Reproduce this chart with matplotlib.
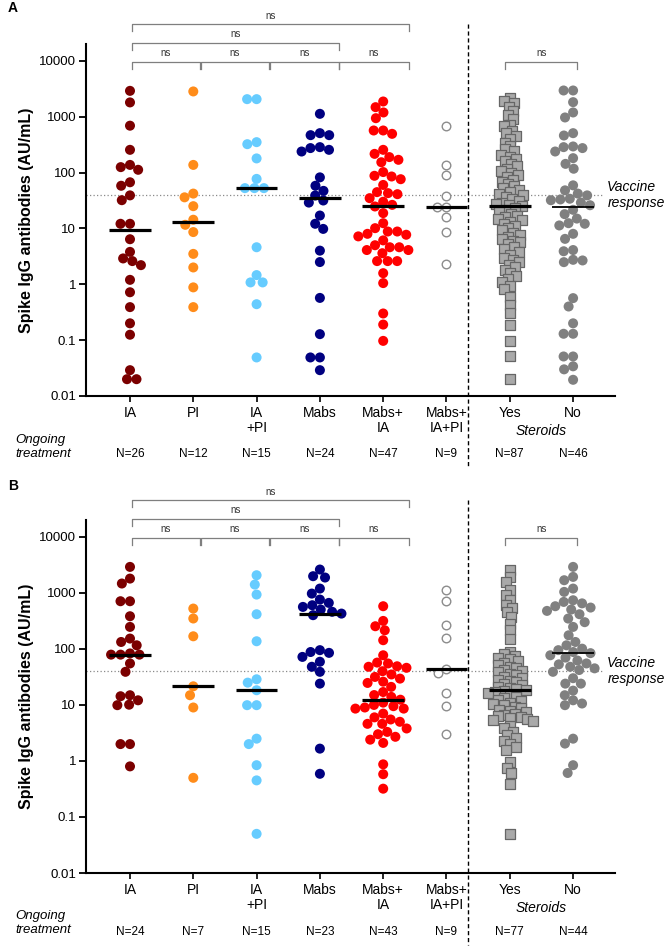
import numpy as np
import matplotlib.pyplot as plt
from matplotlib.ticker import NullLocator
from matplotlib.transforms import blended_transform_factory

plt.rcParams['font.family'] = ['Liberation Sans', 'DejaVu Sans']

groups = ["IA", "PI", "IA\n+PI", "Mabs", "Mabs+\nIA", "Mabs+\nIA+PI", "Yes", "No"]
ytick_vals = [0.01, 0.1, 1, 10, 100, 1000, 10000]
ytick_labels = ["0.01", "0.1", "1", "10", "100", "1000", "10000"]
vaccine_cut = 40

# panel A values (AU/mL)
a_ia = [2900, 1800, 690, 255, 137, 125, 112, 67, 58, 39, 32, 12.1, 12.1, 6.4, 3.8, 2.9,
        2.6, 2.2, 1.2, 0.72, 0.39, 0.2, 0.125, 0.029, 0.02, 0.02]
a_pi = [2830, 137, 42, 36, 25, 14.3, 11.6, 8.6, 3.5, 2.0, 0.88, 0.39]
a_iapi = [2060, 2060, 350, 322, 179, 77, 52.6, 52.6, 52.6, 4.6, 1.46, 1.08, 1.08, 0.44, 0.049]
a_mabs = [1125, 507, 467, 467, 285, 274, 255, 238, 82, 58, 47, 38.8, 31.6, 29, 17, 12.1,
          9.8, 4.0, 2.5, 0.57, 0.128, 0.049, 0.049, 0.029]
a_mabs_ia = [1870, 1480, 1190, 940, 566, 566, 493, 255, 216, 189, 169, 153, 102, 87.5, 85,
             76, 60, 44.6, 42.8, 41, 34.8, 30, 26.4, 24.7, 18.8, 12.4, 10.1, 8.8, 8.8, 8,
             7.7, 7.2, 6.1, 5, 4.6, 4.6, 4.1, 4.1, 3.6, 2.6, 2.6, 2.6, 1.58, 1.05, 0.3,
             0.19, 0.097]
a_mabs_ia_pi = [690, 137, 91, 38, 24, 24, 15.9, 8.6, 2.3]
a_yes = [2150, 1900, 1750, 1500, 1240, 1050, 900, 720, 670, 560, 520, 460,
         400, 340, 300, 260, 240, 210, 190, 175, 160,
         145, 130, 118, 108, 98, 90, 82, 75, 68, 62, 57, 52, 48, 45, 42, 39,
         36, 33, 31, 29, 27, 26, 24.7, 23, 21, 19.5, 18, 17, 16,
         15, 14, 13, 12, 11, 10, 9.2, 8.4, 7.7, 7.1,
         6.5, 6.0, 5.8, 5.2, 4.6, 4.2, 3.8, 3.4, 3.0, 2.7, 2.5,
         2.2, 2.0, 1.8, 1.6, 1.4, 1.25, 1.1, 0.95, 0.82,
         0.6, 0.43, 0.3, 0.19, 0.098, 0.051, 0.02]
a_no = [2944, 2944, 1820, 1190, 968, 507, 460, 293, 285, 274, 238, 181, 143, 117, 59, 48,
        42, 39, 34, 33, 32, 29, 26, 21.5, 18, 15, 12.4, 12.1, 11.3, 8, 6.5, 4.1, 3.9,
        2.74, 2.67, 2.49, 0.565, 0.40, 0.20, 0.13, 0.13, 0.051, 0.051, 0.034, 0.030, 0.0195]

# panel B values
b_ia = [2910, 1800, 1470, 710, 710, 383, 247, 153, 133, 116, 83, 79, 79, 79, 55, 39,
        14.9, 14.3, 12.1, 10.1, 9.9, 2.0, 2.0, 0.8]
b_pi = [525, 349, 168, 21.5, 14.9, 9.0, 0.5]
b_iapi = [2066, 1408, 933, 416, 137, 28.7, 25, 18.3, 9.9, 9.9, 2.5, 2.0, 0.84, 0.45, 0.05]
b_mabs = [2611, 1986, 1880, 1194, 972, 760, 663, 602, 562, 504, 460, 427, 400, 95, 88, 85,
          72, 59, 48, 39, 24, 1.66, 0.59]
b_mabs_ia = [578, 316, 254, 215, 143, 77, 57, 55, 49, 48, 46, 40, 35, 31.6, 29.5, 26, 24.7,
             21, 17, 15, 13.9, 12.4, 11, 10, 9.5, 9.0, 8.6, 8.6, 7.0, 6.0, 5.5, 5.0, 4.6,
             4.6, 3.8, 3.3, 3.0, 2.7, 2.4, 2.1, 0.87, 0.58, 0.32]
b_mabs_ia_pi = [1116, 710, 272, 159, 43.4, 37, 16.4, 9.5, 3.0]
b_yes = [2540, 1930, 1572, 1116, 910, 739, 602, 547, 458, 373, 283, 215, 153,
         88, 82, 76, 70, 65, 60, 56, 52, 48, 45, 42, 40, 38, 36, 34, 32, 30, 28, 27, 25.5,
         24, 22.5, 21, 20, 19, 18.3,
         17.5, 16.8, 16, 15, 14, 13.3, 12.5, 11.8, 11, 10.4, 9.8, 9.2, 8.7, 8.2, 7.8, 7.4,
         7, 6.6, 6.3, 6, 5.8, 5.6, 5.4, 5.2,
         4.2, 3.8, 3.3, 2.9, 2.6, 2.3, 2.0, 1.8, 1.6,
         0.95, 0.75, 0.62, 0.38, 0.05]
b_no = [2911, 1930, 1683, 1194, 1042, 739, 690, 650, 578, 547, 504, 477, 416, 348, 300, 247,
        175, 133, 116, 101, 95, 88, 84, 77, 70, 62, 55, 53, 48, 45, 42, 39, 30, 24, 24, 18,
        14.9, 12.1, 10.6, 9.9, 2.5, 2.04, 0.84, 0.61]

panel_a = [a_ia, a_pi, a_iapi, a_mabs, a_mabs_ia, a_mabs_ia_pi, a_yes, a_no]
panel_b = [b_ia, b_pi, b_iapi, b_mabs, b_mabs_ia, b_mabs_ia_pi, b_yes, b_no]

faces = ["#7b0000", "#ff8c1a", "#66ccff", "#000080", "#ff0000", "white", "#a9a9a9", "#808080"]
edges = ["#7b0000", "#ff8c1a", "#66ccff", "#000080", "#ff0000", "#8c8c8c", "#666666", "#808080"]
markers = ["o", "o", "o", "o", "o", "o", "s", "o"]

# (left group, right group, level)
comparisons = [(0, 4, 2), (0, 3, 1), (0, 1, 0), (1, 2, 0), (2, 3, 0), (3, 4, 0), (6, 7, 0)]


def swarm_x(ax, x0, vals, d):
    pts = ax.transData.transform(np.column_stack([np.full(len(vals), x0), vals]))
    ys = pts[:, 1]
    ppu = ax.transData.transform((1, 1))[0] - ax.transData.transform((0, 1))[0]
    offs = np.zeros(len(vals))
    done = []
    for i in np.argsort(-ys, kind='stable'):
        y = ys[i]
        near = [(px, py) for px, py in done if abs(py - y) < d]
        cands = [0.0]
        for px, py in near:
            dx = np.sqrt(d * d - (py - y) ** 2)
            cands += [px - dx, px + dx]
        cands.sort(key=lambda c: (abs(c), c))
        for c in cands:
            if all((c - px) ** 2 + (y - py) ** 2 >= d * d - 0.01 for px, py in near):
                offs[i] = c
                break
        done.append((offs[i], y))
    return x0 + offs / ppu


def draw_panel(ax, data):
    ax.set_yscale('log')
    ax.set_ylim(0.01, 2e4)
    ax.set_xlim(-0.695, 7.662)
    bt = blended_transform_factory(ax.transData, ax.transAxes)

    for i, vals in enumerate(data):
        vals = np.asarray(vals, dtype=float)
        if markers[i] == "s":
            xs = swarm_x(ax, i, vals, 6.5)
            ax.scatter(xs, vals, s=50, marker="s", facecolor=faces[i], edgecolor=edges[i],
                       linewidth=0.9, zorder=3, clip_on=False)
        elif faces[i] == "white":
            xs = swarm_x(ax, i, vals, 9.5)
            ax.scatter(xs, vals, s=38, marker="o", facecolor="white", edgecolor=edges[i],
                       linewidth=1.0, zorder=3, clip_on=False)
        else:
            xs = swarm_x(ax, i, vals, 9.5)
            ax.scatter(xs, vals, s=52, marker="o", facecolor=faces[i], edgecolor="none",
                       zorder=3, clip_on=False)
        med = np.median(vals)
        ax.plot([i - 0.33, i + 0.33], [med, med], color="black",
                lw=1.3 if i == 7 else 2.3, solid_capstyle="butt", zorder=4)

    # vaccine response threshold
    ax.plot([-0.695, 7.46], [vaccine_cut, vaccine_cut], color="#8a8a8a", lw=0.9,
            ls=(0, (1, 1.8)), zorder=1, clip_on=False)
    ax.text(7.54, vaccine_cut, "Vaccine\nresponse", style="italic", fontsize=10,
            ha="left", va="center", linespacing=1.15)

    # separator
    ax.plot([5.34, 5.34], [1.057, -0.205], transform=bt, color="black", lw=1,
            ls=(0, (3, 2)), clip_on=False)

    # significance brackets
    levels = [0.9497, 1.0037, 1.056]
    for i, j, lev in comparisons:
        if i >= 6:
            x1, x2 = i - 0.07, j + 0.06
        else:
            x1, x2 = 0.03 + 1.09 * i, 1.1 * j
        yf = levels[lev]
        ax.plot([x1, x1, x2, x2], [yf - 0.02, yf, yf, yf - 0.02], transform=bt,
                color="#7f7f7f", lw=0.9, clip_on=False)
        ax.text((x1 + x2) / 2, yf + 0.024, "ns", transform=bt, fontsize=7,
                ha="center", va="center", color="#333333")

    # axes styling
    for s in ("top", "right"):
        ax.spines[s].set_visible(False)
    for s in ("left", "bottom"):
        ax.spines[s].set_linewidth(1.5)
    ax.set_yticks(ytick_vals, ytick_labels)
    ax.yaxis.set_minor_locator(NullLocator())
    ax.tick_params(axis="y", length=5, width=1.3, labelsize=9.5, pad=2)
    ax.set_xticks(range(len(groups)), groups)
    ax.tick_params(axis="x", length=4, width=1.2, labelsize=10, pad=3.5)
    for t in ax.get_xticklabels():
        t.set_linespacing(1.05)
    ax.set_ylabel("Spike IgG antibodies (AU/mL)", fontsize=11.5, fontweight="bold", labelpad=4)

    ax.text(6.5, -0.10, "Steroids", transform=bt, style="italic", fontsize=10,
            ha="center", va="center")
    for i, vals in enumerate(data):
        ax.text(i, -0.166, f"N={len(vals)}", transform=bt, fontsize=8.5,
                ha="center", va="center")


fig = plt.figure(figsize=(6.64, 9.5), dpi=100)
axA = fig.add_axes([86 / 664, 1 - 396 / 950, 529 / 664, 352 / 950])
axB = fig.add_axes([86 / 664, 1 - 873 / 950, 529 / 664, 353 / 950])

draw_panel(axA, panel_a)
draw_panel(axB, panel_b)

fig.text(8 / 664, 1 - 8 / 950, "A", fontsize=10, fontweight="bold", va="center")
fig.text(8 / 664, 1 - 486 / 950, "B", fontsize=10, fontweight="bold", va="center")
fig.text(15 / 664, 1 - 447 / 950, "Ongoing\ntreatment", style="italic", fontsize=9.5,
         va="center", linespacing=1.3)
fig.text(15 / 664, 1 - 923 / 950, "Ongoing\ntreatment", style="italic", fontsize=9.5,
         va="center", linespacing=1.3)

fig.savefig("out.png", dpi=100)
